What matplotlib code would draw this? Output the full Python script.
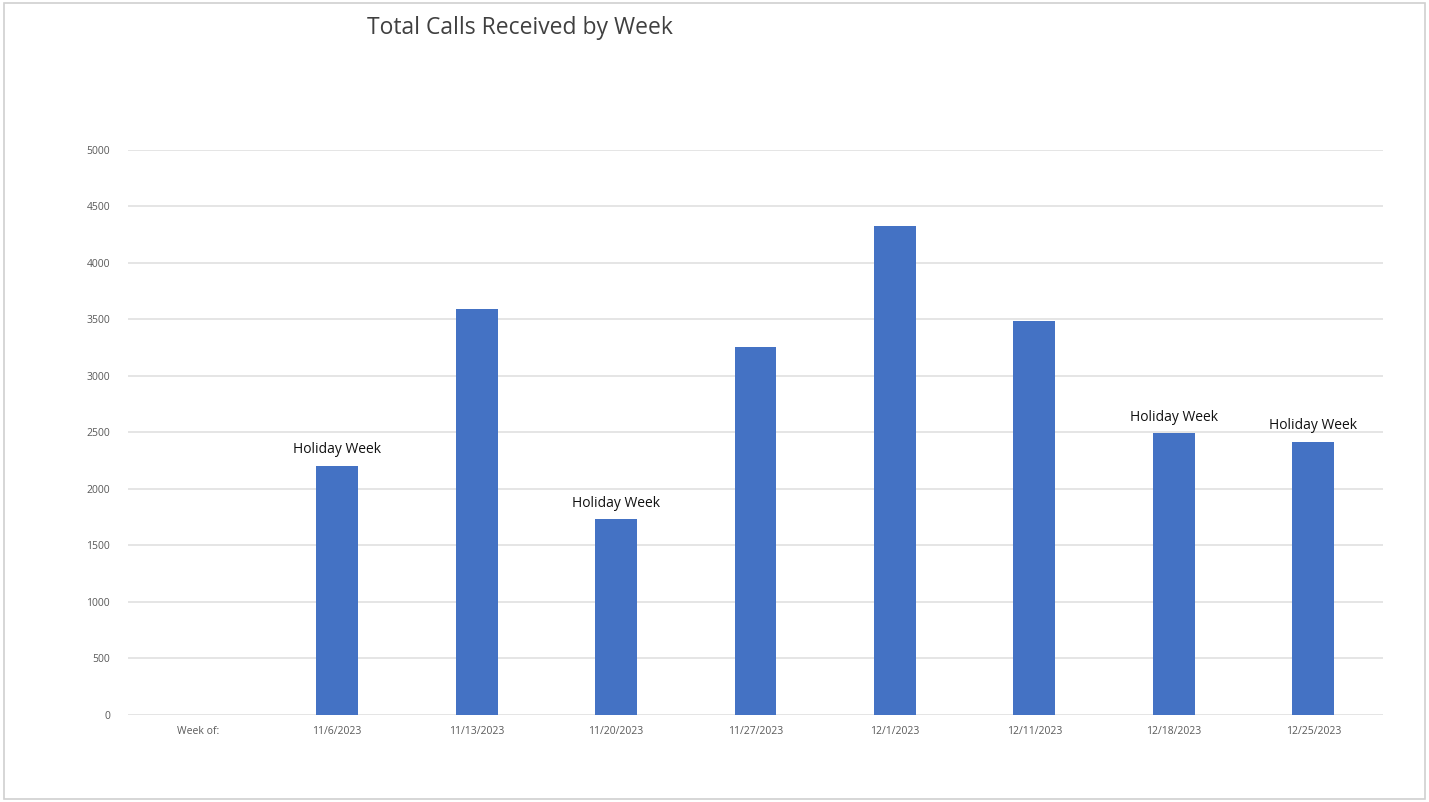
import matplotlib
matplotlib.use("Agg")
import matplotlib.pyplot as plt
from matplotlib.patches import Rectangle

categories = ["Week of:", "11/6/2023", "11/13/2023", "11/20/2023", "11/27/2023",
              "12/1/2023", "12/11/2023", "12/18/2023", "12/25/2023"]
calls = [0, 2205, 3595, 1735, 3258, 4328, 3488, 2492, 2420]
labels = ["", "Holiday Week", "", "Holiday Week", "", "", "", "Holiday Week", "Holiday Week"]
yticks = [0, 500, 1000, 1500, 2000, 2500, 3000, 3500, 4000, 4500, 5000]

plt.rcParams['font.family'] = ['Open Sans', 'DejaVu Sans']

fig = plt.figure(figsize=(14.29, 8.02), dpi=100)
fig.patches.append(Rectangle((0.003, 0.004), 0.994, 0.992, transform=fig.transFigure,
                             fill=False, edgecolor="#d0d0d0", linewidth=1.2))
ax = fig.add_axes([0.0896, 0.1085, 0.8782, 0.7045])

x = list(range(len(categories)))
bars = ax.bar(x, calls, width=0.30, color="#4472C4", zorder=3)

for xi, v, lab in zip(x, calls, labels):
    if lab:
        ax.annotate(lab, (xi, v), xytext=(0, 6), textcoords="offset points",
                    ha="center", va="bottom", fontsize=10, color="#111111")

ax.set_xlim(-0.5, len(categories) - 0.5)
ax.set_ylim(0, 5000)
ax.set_yticks(yticks)
ax.set_yticklabels([str(t) for t in yticks])
ax.set_xticks(x)
ax.set_xticklabels(categories)
ax.tick_params(axis="both", length=0, labelsize=7.5, colors="#595959")
ax.tick_params(axis="y", pad=13)
ax.tick_params(axis="x", pad=8)
ax.grid(axis="y", color="#e0e0e0", linewidth=1.2, zorder=0)
for s in ax.spines.values():
    s.set_visible(False)

fig.text(0.3635, 0.965, "Total Calls Received by Week", ha="center", va="center",
         fontsize=16.5, color="#404040")

fig.savefig("out.png", dpi=100, facecolor="white")
